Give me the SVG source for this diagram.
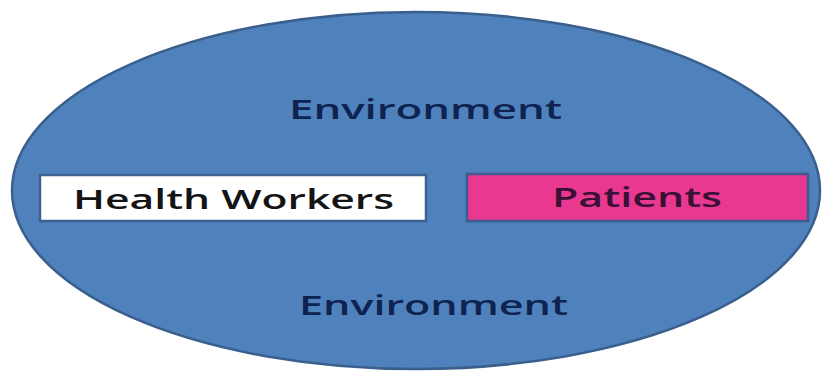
<svg xmlns="http://www.w3.org/2000/svg" width="822" height="371" viewBox="0 0 822 371">
  <style>
    .label { font-family: "Open Sans", "Liberation Sans", sans-serif; font-weight: 600; font-size: 27px; }
    .env { fill: #0f2350; }
    .box { stroke-width: 2.5; }
  </style>
  <rect width="822" height="371" fill="#ffffff"/>
  <g id="environment">
    <ellipse cx="416" cy="190.5" rx="404" ry="178.5" fill="#4f81bd" stroke="#3a5f8c" stroke-width="2.5"/>
    <text class="label env" x="289" y="119" textLength="273" lengthAdjust="spacingAndGlyphs">Environment</text>
    <text class="label env" x="299" y="315" textLength="269" lengthAdjust="spacingAndGlyphs">Environment</text>
  </g>
  <g id="health-workers">
    <rect class="box" x="40" y="175" width="386" height="46" fill="#ffffff" stroke="#3d6190"/>
    <text class="label" x="73" y="209" fill="#141414" textLength="321" lengthAdjust="spacingAndGlyphs">Health Workers</text>
  </g>
  <g id="patients">
    <rect class="box" x="467" y="174" width="341" height="47" fill="#e8388f" stroke="#3f5a8c"/>
    <text class="label" x="552" y="207" fill="#3a1035" textLength="170" lengthAdjust="spacingAndGlyphs">Patients</text>
  </g>
  <g id="connectors"/>
</svg>
